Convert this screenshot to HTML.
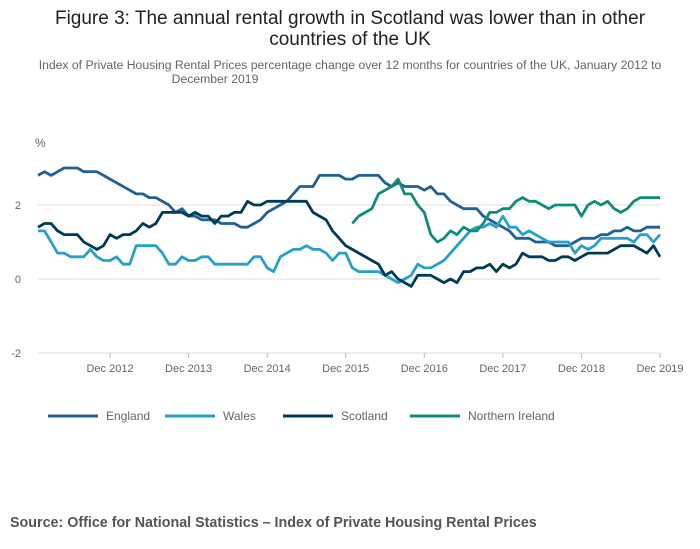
<!DOCTYPE html>
<html><head><meta charset="utf-8"><style>
body{margin:0;background:#fff;font-family:"Liberation Sans",sans-serif;}
#wrap{position:relative;width:700px;height:549px;overflow:hidden;}
</style></head><body>
<div id="wrap">
<svg id="chart" width="700" height="549">
<text x="350" y="24" text-anchor="middle" font-size="19" fill="#222">Figure 3: The annual rental growth in Scotland was lower than in other</text>
<text x="350" y="45" text-anchor="middle" font-size="19" fill="#222">countries of the UK</text>
<text x="350" y="69" text-anchor="middle" font-size="12.2" fill="#666">Index of Private Housing Rental Prices percentage change over 12 months for countries of the UK, January 2012 to</text>
<text x="215" y="83" text-anchor="middle" font-size="12.2" fill="#666">December 2019</text>
<text x="35" y="147" font-size="12" fill="#666">%</text>
<g id="grid"></g><g id="xt"></g><g id="lines"></g>
<g id="legend"></g>
<text x="10" y="527" font-size="14.3" font-weight="bold" fill="#555">Source: Office for National Statistics – Index of Private Housing Rental Prices</text>
</svg>
</div>
<script>
const seriesNames=["England","Wales","Scotland","Northern Ireland"];
const yTicks=[2,0,-2];
const xTickLabels=["Dec 2012","Dec 2013","Dec 2014","Dec 2015","Dec 2016","Dec 2017","Dec 2018","Dec 2019"];
const xTickMonths=[11,23,35,47,59,71,83,95];
const england=[2.8,2.9,2.8,2.9,3.0,3.0,3.0,2.9,2.9,2.9,2.8,2.7,2.6,2.5,2.4,2.3,2.3,2.2,2.2,2.1,2.0,1.8,1.9,1.7,1.7,1.6,1.6,1.6,1.5,1.5,1.5,1.4,1.4,1.5,1.6,1.8,1.9,2.0,2.1,2.3,2.5,2.5,2.5,2.8,2.8,2.8,2.8,2.7,2.7,2.8,2.8,2.8,2.8,2.6,2.5,2.6,2.5,2.5,2.5,2.4,2.5,2.3,2.3,2.1,2.0,1.9,1.9,1.9,1.7,1.6,1.5,1.4,1.3,1.1,1.1,1.1,1.0,1.0,1.0,0.9,0.9,0.9,1.0,1.1,1.1,1.1,1.2,1.2,1.3,1.3,1.4,1.3,1.3,1.4,1.4,1.4];
const wales=[1.3,1.3,1.0,0.7,0.7,0.6,0.6,0.6,0.8,0.6,0.5,0.5,0.6,0.4,0.4,0.9,0.9,0.9,0.9,0.7,0.4,0.4,0.6,0.5,0.5,0.6,0.6,0.4,0.4,0.4,0.4,0.4,0.4,0.6,0.6,0.3,0.2,0.6,0.7,0.8,0.8,0.9,0.8,0.8,0.7,0.5,0.7,0.7,0.3,0.2,0.2,0.2,0.2,0.1,0.0,-0.1,0.0,0.1,0.4,0.3,0.3,0.4,0.5,0.7,0.9,1.1,1.3,1.4,1.4,1.5,1.4,1.7,1.4,1.4,1.2,1.3,1.2,1.1,1.0,1.0,1.0,1.0,0.7,0.9,0.8,0.9,1.1,1.1,1.1,1.1,1.1,1.0,1.2,1.2,1.0,1.2];
const scotland=[1.4,1.5,1.5,1.3,1.2,1.2,1.2,1.0,0.9,0.8,0.9,1.2,1.1,1.2,1.2,1.3,1.5,1.4,1.5,1.8,1.8,1.8,1.8,1.7,1.8,1.7,1.7,1.5,1.7,1.7,1.8,1.8,2.1,2.0,2.0,2.1,2.1,2.1,2.1,2.1,2.1,2.1,1.8,1.7,1.6,1.3,1.1,0.9,0.8,0.7,0.6,0.5,0.4,0.1,0.2,0.0,-0.1,-0.2,0.1,0.1,0.1,0.0,-0.1,0.0,-0.1,0.2,0.2,0.3,0.3,0.4,0.2,0.4,0.3,0.4,0.7,0.6,0.6,0.6,0.5,0.5,0.6,0.6,0.5,0.6,0.7,0.7,0.7,0.7,0.8,0.9,0.9,0.9,0.8,0.7,0.9,0.6];
const nIreland=[null,null,null,null,null,null,null,null,null,null,null,null,null,null,null,null,null,null,null,null,null,null,null,null,null,null,null,null,null,null,null,null,null,null,null,null,null,null,null,null,null,null,null,null,null,null,null,null,1.5,1.7,1.8,1.9,2.3,2.4,2.5,2.7,2.3,2.3,2.0,1.8,1.2,1.0,1.1,1.3,1.2,1.4,1.3,1.3,1.5,1.8,1.8,1.9,1.9,2.1,2.2,2.1,2.1,2.0,1.9,2.0,2.0,2.0,2.0,1.7,2.0,2.1,2.0,2.1,1.9,1.8,1.9,2.1,2.2,2.2,2.2,2.2];
const colors=["#206095","#27a0cc","#003c57","#118c7b"];
const NS="http://www.w3.org/2000/svg";
const x0=38,x1=660,y0v=279,pxPer=37;
const xs=i=>x0+i*(x1-x0)/95;
const ys=v=>y0v-v*pxPer;
function mk(t,a,p){const e=document.createElementNS(NS,t);for(const k in a)e.setAttribute(k,a[k]);p.appendChild(e);return e;}
const grid=document.getElementById('grid');
yTicks.forEach(v=>{
  const l=mk('line',{x1:x0,x2:x1,y1:ys(v),y2:ys(v),stroke:'#ddd','stroke-width':1},grid);
  
  
  const t=mk('text',{x:21,y:ys(v)+4,'text-anchor':'end','font-size':11,fill:'#666'},grid);
  t.textContent=v;
  
  
});
const xt=document.getElementById('xt');
xTickLabels.forEach((lab,i)=>{
  const x=xs(xTickMonths[i]);
  const tk=mk('line',{x1:x,x2:x,y1:ys(-2),y2:ys(-2)+5,stroke:'#bbb'},xt);
  
  
  const t=mk('text',{x:x,y:372,'text-anchor':'middle','font-size':11,fill:'#666'},xt);
  t.textContent=lab;
  
  
});
const lg=document.getElementById('lines');
[england,wales,scotland,nIreland].forEach((arr,si)=>{
  let d='',pen=false;
  arr.forEach((v,i)=>{if(v===null){pen=false;return;}d+=(pen?'L':'M')+xs(i).toFixed(1)+','+ys(v).toFixed(1);pen=true;});
  const p=mk('path',{d:d,fill:'none',stroke:colors[si],'stroke-width':2.8,'stroke-linejoin':'round'},lg);
  
  
});
const leg=document.getElementById('legend');
const legX=[48,165,283,410];
seriesNames.forEach((n,i)=>{
  const l=mk('line',{x1:legX[i],x2:legX[i]+50,y1:416,y2:416,stroke:colors[i],'stroke-width':3},leg);
  
  
  const t=mk('text',{x:legX[i]+58,y:420,'font-size':12,fill:'#666'},leg);
  t.textContent=n;
  
  
});
</script>
</body></html>
